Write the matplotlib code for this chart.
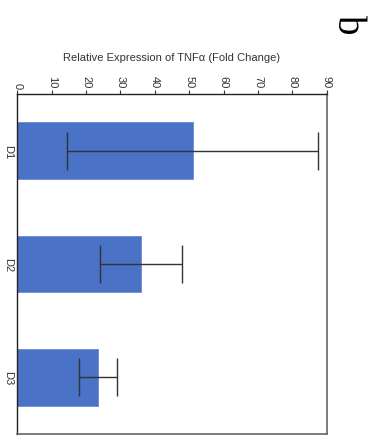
import matplotlib
matplotlib.use("Agg")
import matplotlib.pyplot as plt

categories = ["D1", "D2", "D3"]
values = [51.0, 36.0, 23.5]
errors = [36.5, 11.8, 5.6]
xticks = [0, 10, 20, 30, 40, 50, 60, 70, 80, 90]
axis_label = "Relative Expression of TNFα (Fold Change)"
panel_label = "b"

plt.rcParams['font.family'] = ['Liberation Sans', 'DejaVu Sans']

fig = plt.figure(figsize=(3.77, 4.39), dpi=100)
ax = fig.add_axes([17.3/377, 1-435/439, (326.7-17.3)/377, (435-95)/439])

pos = list(range(len(categories)))
ax.barh(pos, values, height=0.5, color="#4A72C6", edgecolor="#6A8AD6", linewidth=0.6, zorder=2)
ax.errorbar(values, pos, xerr=errors, fmt="none", ecolor="#333333", elinewidth=1.0,
            capsize=14, capthick=1.0, zorder=3)

ax.set_xlim(0, 90)
ax.set_ylim(2.5, -0.5)
ax.xaxis.tick_top()
ax.xaxis.set_label_position("top")
ax.set_xticks(xticks)
ax.set_xticklabels([str(t) for t in xticks], rotation=-90, fontsize=8, color="#333333")
ax.tick_params(axis="x", direction="out", length=3, width=0.8, color="#333333", pad=1.5)
ax.set_yticks(pos)
ax.set_yticklabels(categories, rotation=-90, fontsize=8, color="#333333", va="center")
ax.tick_params(axis="y", length=0, pad=3)
ax.set_xlabel(axis_label, fontsize=8, color="#333333", labelpad=11)

for s in ["left", "top"]:
    ax.spines[s].set_color("#222222")
    ax.spines[s].set_linewidth(1.0)
for s in ["right", "bottom"]:
    ax.spines[s].set_color("#666666")
    ax.spines[s].set_linewidth(1.2)

fig.text(347/377, 1-25/439, panel_label, rotation=-90, fontsize=28,
         family=["Liberation Serif", "DejaVu Serif"], ha="center", va="center")

fig.savefig("out.png", dpi=100)
